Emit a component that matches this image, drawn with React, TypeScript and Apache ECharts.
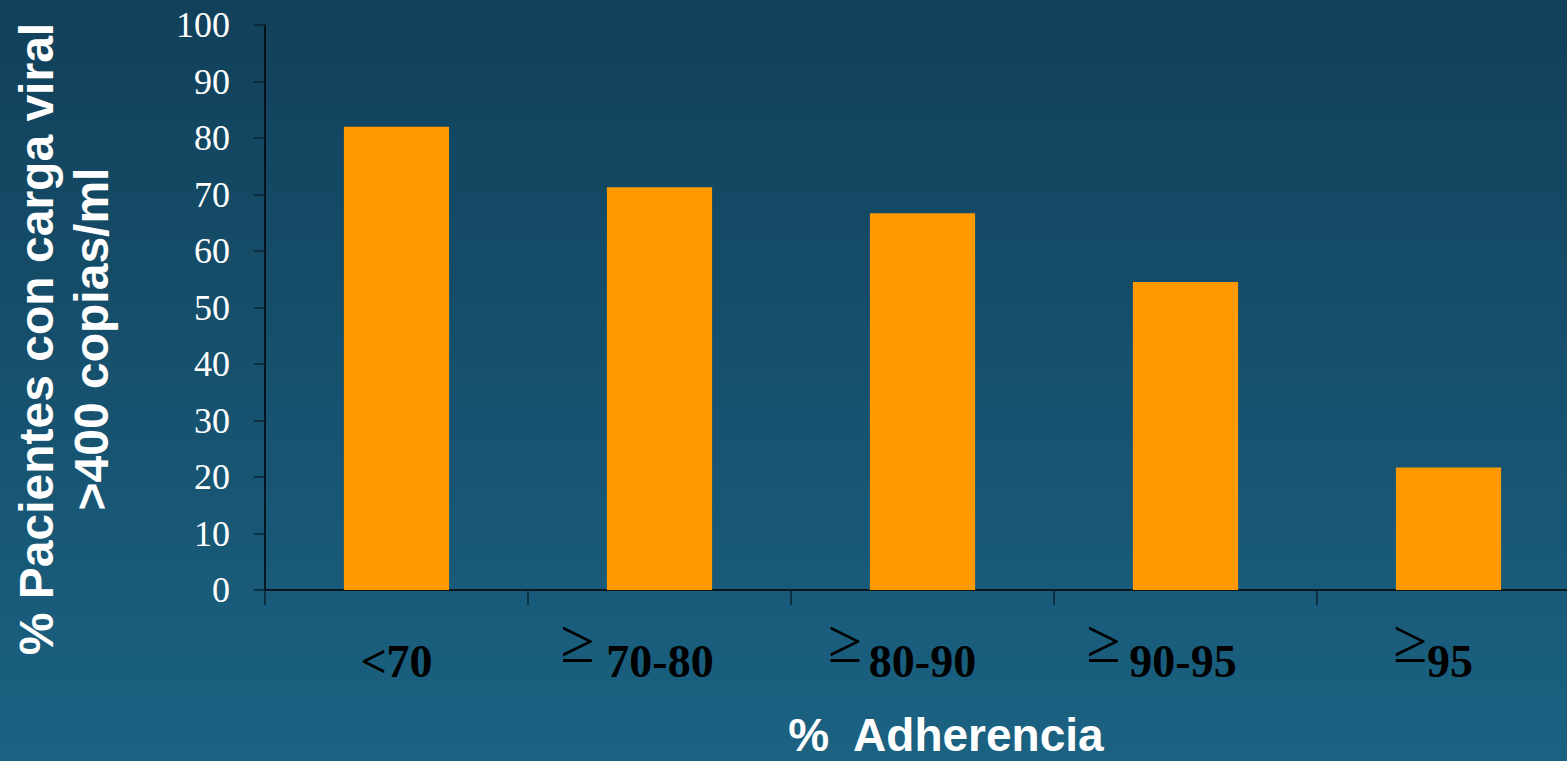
import React, { useEffect, useRef } from "react";
import * as echarts from "echarts";

// Adherence bands and share of patients with viral load > 400 copias/ml
const categories = ["<70", "≥70-80", "≥80-90", "≥90-95", "≥95"];
const percentPatients = [82, 71.3, 66.7, 54.5, 21.7];

const yAxisTitle = "% Pacientes con carga viral\n>400 copias/ml";
const xAxisTitle = "%  Adherencia";

// spacing after the ≥ sign, and trailing room that nudges each band label left
const geGaps = [0, 12, 7, 9, 0];
const labelTail = [0, 45, 41, 48, 31];

const serif = "'Liberation Serif', 'Times New Roman', serif";
const sans = "'Liberation Sans', Arial, sans-serif";

function buildRich() {
  const rich: Record<string, any> = {};
  categories.forEach((_, i) => {
    rich["v" + i] = {
      fontFamily: serif,
      fontWeight: "bold",
      fontSize: 46,
      color: "#000",
      lineHeight: 70,
      verticalAlign: "bottom",
      padding: [0, labelTail[i], 0, 0],
    };
    rich["ge" + i] = {
      fontFamily: serif,
      fontWeight: "normal",
      fontSize: 62,
      color: "#000",
      lineHeight: 70,
      verticalAlign: "bottom",
      padding: [0, geGaps[i], 12, 0],
    };
  });
  return rich;
}

export default function App() {
  const ref = useRef<HTMLDivElement>(null);

  useEffect(() => {
    if (!ref.current) return;
    const chart = echarts.init(ref.current, null, { renderer: "svg" });
    chart.setOption({
      animation: false,
      backgroundColor: {
        type: "linear",
        x: 0,
        y: 0,
        x2: 0,
        y2: 1,
        colorStops: [
          { offset: 0, color: "#11405a" },
          { offset: 1, color: "#1b6282" },
        ],
      },
      grid: { left: 265, top: 25, width: 1315, height: 565, containLabel: false },
      xAxis: {
        type: "category",
        data: categories,
        boundaryGap: true,
        axisLine: { show: true, lineStyle: { color: "#000", width: 1.5 } },
        axisTick: {
          show: true,
          alignWithLabel: false,
          length: 15,
          lineStyle: { color: "#0a2433", width: 1.5 },
        },
        axisLabel: {
          interval: 0,
          margin: 24,
          formatter: (val: string) => {
            const i = categories.indexOf(val);
            if (val.startsWith("≥")) {
              return `{ge${i}|≥}{v${i}|${val.slice(1)}}`;
            }
            return `{v${i}|${val}}`;
          },
          rich: buildRich(),
        },
        splitLine: { show: false },
      },
      yAxis: {
        type: "value",
        min: 0,
        max: 100,
        interval: 10,
        axisLine: { show: true, lineStyle: { color: "#000", width: 1.5 } },
        axisTick: {
          show: true,
          inside: false,
          length: 11,
          lineStyle: { color: "#0a2433", width: 1.5 },
        },
        axisLabel: {
          color: "#fff",
          fontFamily: serif,
          fontSize: 36,
          margin: 35,
        },
        splitLine: { show: false },
      },
      series: [
        {
          type: "bar",
          data: percentPatients,
          barWidth: "40%",
          itemStyle: { color: "#ff9900" },
        },
      ],
      graphic: [
        {
          type: "text",
          x: 64,
          y: 339,
          rotation: Math.PI / 2,
          style: {
            text: yAxisTitle,
            fill: "#fff",
            font: `bold 48px ${sans}`,
            lineHeight: 55,
            textAlign: "center",
            textVerticalAlign: "middle",
          },
        },
        {
          type: "text",
          x: 946,
          y: 735,
          style: {
            text: xAxisTitle,
            fill: "#fff",
            font: `bold 46px ${sans}`,
            lineHeight: 40,
            textAlign: "center",
            textVerticalAlign: "middle",
          },
        },
      ],
    });
    return () => chart.dispose();
  }, []);

  return (
    <div
      style={{
        position: "absolute",
        left: 0,
        top: 0,
        width: 1567,
        height: 761,
        overflow: "hidden",
      }}
    >
      <div ref={ref} style={{ width: 1580, height: 761 }} />
    </div>
  );
}
